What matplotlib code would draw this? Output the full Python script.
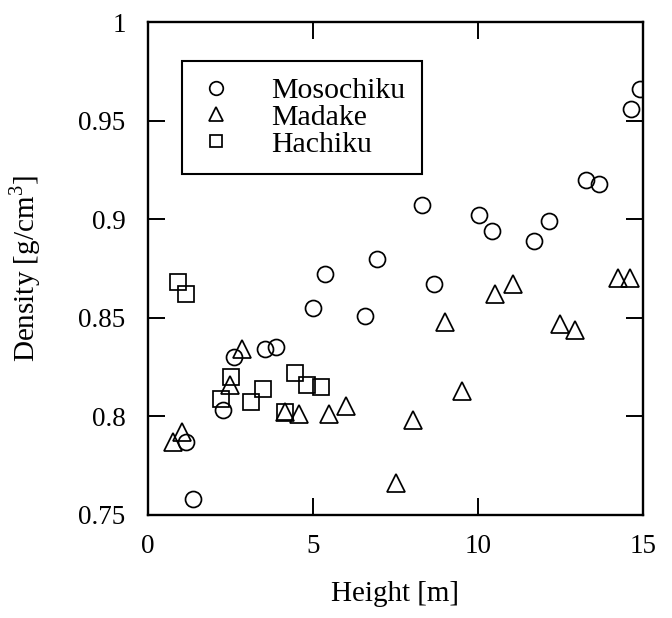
import matplotlib.pyplot as plt

plt.rcParams['font.family'] = ['Liberation Serif', 'DejaVu Serif']
plt.rcParams['mathtext.fontset'] = 'custom'
plt.rcParams['mathtext.rm'] = 'Liberation Serif'

# Mosochiku (circles)
moso_h = [1.16, 1.37, 2.28, 2.60, 3.54, 3.89, 5.0, 5.36, 6.58, 6.94, 8.29, 8.67,
          10.03, 10.42, 11.70, 12.15, 13.27, 13.65, 14.63, 14.92]
moso_d = [0.787, 0.758, 0.803, 0.830, 0.834, 0.835, 0.855, 0.872, 0.851, 0.880, 0.907, 0.867,
          0.902, 0.894, 0.889, 0.899, 0.920, 0.918, 0.956, 0.966]

# Madake (triangles)
madake_h = [0.75, 1.04, 2.48, 2.86, 4.14, 4.58, 5.49, 6.01, 7.52, 8.04, 9.0, 9.53,
            10.52, 11.06, 12.48, 12.94, 14.23, 14.61]
madake_d = [0.787, 0.792, 0.816, 0.834, 0.802, 0.801, 0.801, 0.805, 0.766, 0.798, 0.848, 0.813,
            0.862, 0.867, 0.847, 0.844, 0.870, 0.870]

# Hachiku (squares)
hachi_h = [0.92, 1.16, 2.22, 2.52, 3.11, 3.49, 4.15, 4.47, 4.83, 5.23]
hachi_d = [0.868, 0.862, 0.809, 0.820, 0.807, 0.814, 0.802, 0.822, 0.816, 0.815]

fig = plt.figure(figsize=(6.72, 6.18), dpi=100)
ax = fig.add_axes([0.22, 0.167, 0.737, 0.797])

style = dict(linestyle='none', markerfacecolor='none', markeredgecolor='black', markeredgewidth=1.25)
ax.plot(moso_h, moso_d, marker='o', markersize=11.5, label='Mosochiku', **style)
ax.plot(madake_h, madake_d, marker='^', markersize=12.5, label='Madake', **style)
ax.plot(hachi_h, hachi_d, marker='s', markersize=11, label='Hachiku', **style)

ax.set_xlim(0, 15)
ax.set_ylim(0.75, 1.0)
ax.set_xticks([0, 5, 10, 15])
ax.set_yticks([0.75, 0.8, 0.85, 0.9, 0.95, 1.0])
ax.set_yticklabels(['0.75', '0.8', '0.85', '0.9', '0.95', '1'])
ax.tick_params(direction='in', length=12, width=1.4, top=True, right=True, labelsize=19.5)
ax.tick_params(axis='x', pad=14)
ax.tick_params(axis='y', pad=16)
for s in ax.spines.values():
    s.set_linewidth(1.7)

ax.set_xlabel('Height [m]', fontsize=21)
ax.xaxis.set_label_coords(0.5, -0.135)
ax.set_ylabel('Density [g/cm$^3$]', fontsize=21)
ax.yaxis.set_label_coords(-0.212, 0.5)

leg = ax.legend(loc='upper left', bbox_to_anchor=(0.069, 0.922), fontsize=21.5,
                markerscale=0.85, handlelength=1.2, handletextpad=1.25, borderpad=0.55,
                labelspacing=0.0, fancybox=False, borderaxespad=0)
leg.get_frame().set_edgecolor('black')
leg.get_frame().set_linewidth(1.5)
leg.get_frame().set_alpha(1)

fig.savefig('out.png', dpi=100)
